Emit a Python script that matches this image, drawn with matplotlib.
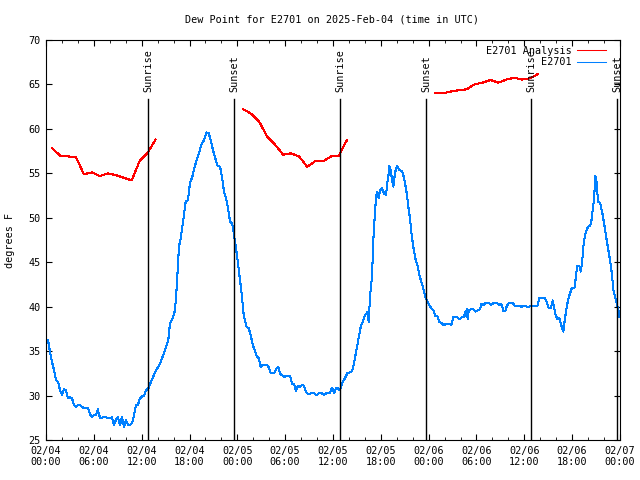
import numpy as np
import matplotlib.pyplot as plt
from matplotlib.ticker import MultipleLocator
import matplotlib.transforms as mtransforms

plt.rcParams['font.family'] = ['DejaVu Sans Mono']
plt.rcParams['font.size'] = 7.3

# hours since 2025-02-04 00:00 UTC
anal_t1 = [0.75, 1.75, 2.75, 3.75, 4.75, 5.75, 6.75, 7.75, 8.75, 9.75, 10.75, 11.75, 12.75, 13.75]
anal_v1 = [57.85, 57.0, 56.9, 56.85, 54.9, 55.1, 54.7, 55.0, 54.8, 54.5, 54.2, 56.4, 57.3, 58.8]
anal_t2 = [24.75, 25.75, 26.75, 27.75, 28.75, 29.75, 30.75, 31.75, 32.75, 33.75, 34.75, 35.75, 36.75, 37.75]
anal_v2 = [62.2, 61.7, 60.8, 59.1, 58.2, 57.1, 57.25, 56.9, 55.75, 56.35, 56.35, 56.9, 57.0, 58.75]
anal_t3 = [48.75, 49.75, 50.75, 51.75, 52.75, 53.75, 54.75, 55.75, 56.75, 57.75, 58.75, 59.75, 60.75, 61.75]
anal_v3 = [64.0, 64.0, 64.2, 64.35, 64.45, 65.0, 65.2, 65.5, 65.2, 65.55, 65.75, 65.55, 65.7, 66.2]

obs_t = [0.25, 0.50, 0.75, 1.00, 1.25, 1.51, 1.76, 2.01, 2.26, 2.51, 2.76, 3.01, 3.26, 3.51,
         3.76, 4.01, 4.27, 4.52, 4.77, 5.02, 5.27, 5.52, 5.77, 6.02, 6.27, 6.52, 6.65, 6.86,
         7.11, 7.53, 7.94, 8.28, 8.53, 8.78, 9.03, 9.28, 9.53, 9.78, 10.04, 10.29, 10.54, 10.79,
         11.04, 11.29, 11.54, 11.79, 12.04, 12.29, 12.54, 12.83, 13.26, 13.67, 14.30, 14.93, 15.34,
         15.55, 15.97, 16.18, 16.40, 16.68, 16.90, 17.22, 17.52, 17.81, 18.06, 18.35, 18.65, 18.90,
         19.19, 19.48, 19.82, 20.16, 20.41, 20.66, 20.95, 21.24, 21.49, 21.83, 22.08, 22.33, 22.58,
         22.83, 23.08, 23.37, 23.58, 23.83, 24.08, 24.34, 24.59, 24.75, 24.93, 25.18, 25.43, 25.68,
         25.93, 26.18, 26.43, 26.68, 26.93, 27.18, 27.69, 27.94, 28.19, 28.60, 28.85, 29.14, 29.39,
         29.64, 29.89, 30.19, 30.61, 30.86, 31.11, 31.36, 31.61, 31.86, 32.11, 32.36, 32.61, 32.87,
         33.20, 33.62, 33.96, 34.21, 34.62, 34.87, 35.12, 35.63, 35.88, 36.13, 36.38, 36.63, 36.88,
         37.13, 37.38, 37.80, 38.35, 38.55, 38.89, 39.17, 39.48, 39.73, 40.01, 40.30, 40.48, 40.64,
         40.89, 41.06, 41.23, 41.40, 41.56, 41.73, 41.90, 42.15, 42.40, 42.65, 42.81, 42.99, 43.06,
         43.24, 43.40, 43.57, 43.74, 43.90, 44.07, 44.32, 44.66, 44.82, 45.03, 45.25, 45.45, 45.66,
         45.87, 46.07, 46.33, 46.58, 46.83, 47.08, 47.33, 47.58, 47.83, 48.08, 48.33, 48.58, 48.84,
         49.09, 49.34, 49.68, 49.93, 50.18, 50.68, 50.84, 51.09, 51.59, 51.84, 52.18, 52.43, 52.60,
         52.68, 52.77, 52.90, 53.02, 53.27, 53.60, 53.85, 54.19, 54.44, 54.61, 54.86, 55.11, 55.61,
         55.86, 56.11, 56.61, 56.86, 57.12, 57.37, 57.62, 57.79, 58.04, 58.54, 58.87, 59.37, 59.71,
         59.96, 60.46, 60.96, 61.63, 61.88, 62.56, 62.81, 63.06, 63.31, 63.56, 63.72, 63.89, 64.14,
         64.39, 64.64, 64.89, 65.07, 65.23, 65.48, 65.73, 65.98, 66.32, 66.48, 66.65, 66.90, 67.07,
         67.24, 67.40, 67.58, 67.74, 67.99, 68.24, 68.40, 68.58, 68.74, 68.91, 69.08, 69.24, 69.49,
         69.75, 70.00, 70.25, 70.50, 70.75, 71.00, 71.16, 71.42, 71.67, 71.84, 71.92]
obs_v = [36.25, 34.9, 33.8, 32.9, 31.75, 31.55, 30.6, 30.05, 30.7, 30.6, 29.7, 29.8, 29.7, 28.9,
         28.75, 28.9, 28.9, 28.75, 28.55, 28.65, 28.65, 27.9, 27.6, 27.8, 27.8, 28.45, 27.8, 27.45,
         27.55, 27.55, 27.45, 27.55, 26.7, 27.3, 27.55, 26.7, 27.55, 26.5, 27.2, 26.7, 26.7, 26.9,
         27.8, 28.9, 29.0, 29.7, 29.9, 29.95, 30.6, 30.8, 31.75, 32.6, 33.6, 35.1, 36.25,
         38.1, 38.9, 39.6, 42.25, 46.75, 47.7, 49.75, 51.8, 52.0, 53.9, 54.6, 55.75, 56.5,
         57.25, 58.2, 58.75, 59.6, 59.5, 58.75, 57.6, 56.7, 55.9, 55.75, 54.6, 52.9, 52.2,
         51.1, 49.6, 49.3, 48.05, 46.6, 44.9, 43.0, 41.1, 39.4, 38.5, 37.7, 37.55, 36.8,
         35.7, 35.1, 34.4, 34.2, 33.25, 33.45, 33.45, 33.2, 32.5, 32.5, 32.95, 33.25, 32.4,
         32.3, 32.1, 32.25, 32.25, 31.3, 31.3, 30.55, 31.1, 31.0, 31.2, 31.1, 30.45, 30.15,
         30.25, 30.25, 30.05, 30.25, 30.25, 30.05, 30.25, 30.3, 30.9, 30.3, 30.8, 30.8, 30.6,
         31.4, 31.75, 32.5, 32.7, 33.25, 34.9, 36.25, 37.75, 38.3, 39.0, 39.4, 38.3, 41.1,
         43.4, 47.5, 50.1, 52.4, 52.9, 52.2, 53.1, 53.3, 52.75, 52.55, 53.9, 55.0, 55.8,
         55.4, 54.25, 53.5, 54.8, 55.55, 55.8, 55.4, 55.2, 54.8, 53.9, 52.75, 51.25, 49.9,
         48.05, 46.75, 45.4, 44.7, 43.55, 42.8, 42.05, 41.1, 40.55, 40.2, 39.8, 39.6, 38.95,
         38.95, 38.3, 38.1, 37.9, 38.1, 38.1, 37.9, 38.8, 38.8, 38.6, 38.8, 38.8, 39.45,
         38.95, 39.7, 38.6, 39.6, 39.7, 39.7, 39.45, 39.6, 39.7, 40.3, 40.2, 40.4, 40.4,
         40.2, 40.4, 40.4, 40.2, 40.3, 39.55, 39.55, 40.05, 40.4, 40.4, 40.05, 40.05, 40.0,
         40.05, 40.0, 40.05, 40.05, 40.95, 40.95, 40.55, 39.8, 39.8, 40.7, 40.0, 39.2, 38.6,
         38.7, 37.9, 37.2, 38.5, 39.45, 40.75, 41.5, 42.15, 42.15, 43.55, 44.55, 44.55, 43.95,
         44.9, 46.75, 47.9, 48.45, 49.0, 49.1, 49.55, 50.9, 52.1, 54.7, 53.9, 51.8, 51.7,
         50.7, 49.4, 47.9, 46.6, 45.25, 43.55, 41.9, 40.95, 40.0, 39.45, 38.9]

sun_t = [12.83, 23.63, 36.92, 47.71, 60.88, 71.67]
sun_lab = ['Sunrise', 'Sunset', 'Sunrise', 'Sunset', 'Sunrise', 'Sunset']

xtick_pos = list(range(0, 73, 6))
xtick_lab = ['02/04\n00:00', '02/04\n06:00', '02/04\n12:00', '02/04\n18:00',
             '02/05\n00:00', '02/05\n06:00', '02/05\n12:00', '02/05\n18:00',
             '02/06\n00:00', '02/06\n06:00', '02/06\n12:00', '02/06\n18:00',
             '02/07\n00:00']

fig = plt.figure(figsize=(6.4, 4.8), dpi=100)
ax = fig.add_axes([46/640, 40/480, 574/640, 400/480])

ax.plot(anal_t1, anal_v1, color='#ff0000', lw=0.75, label='E2701 Analysis', antialiased=False)
ax.plot(anal_t2, anal_v2, color='#ff0000', lw=0.75, antialiased=False)
ax.plot(anal_t3, anal_v3, color='#ff0000', lw=0.75, antialiased=False)
ax.plot(obs_t, obs_v, color='#0080ff', lw=0.75, label='E2701', antialiased=False)

trans = mtransforms.blended_transform_factory(ax.transData, ax.transAxes)
for t, lab in zip(sun_t, sun_lab):
    ax.axvline(t, ymin=0, ymax=0.8525, color='black', lw=1.0)
    ax.text(t, 0.87, lab, transform=trans, rotation=90, ha='center', va='bottom')

ax.set_xlim(0, 72)
ax.set_ylim(25, 70)
ax.set_xticks(xtick_pos)
ax.set_xticklabels(xtick_lab)
ax.xaxis.set_minor_locator(MultipleLocator(2))
ax.yaxis.set_major_locator(MultipleLocator(5))
ax.tick_params(which='both', direction='in', top=True, right=True)
ax.tick_params(which='major', length=4.5, pad=4)
ax.tick_params(which='minor', length=2.5)

leg = ax.legend(loc='upper right', markerfirst=False, frameon=False, handlelength=2.8,
                handletextpad=0.6, labelspacing=0.15, borderaxespad=0.15,
                bbox_to_anchor=(0.985, 1.0))

fig.text(0.519, 0.96, 'Dew Point for E2701 on 2025-Feb-04 (time in UTC)', ha='center', va='center')
fig.text(0.016, 0.5, 'degrees F', rotation=90, ha='center', va='center')

fig.savefig('out.png', dpi=100)
